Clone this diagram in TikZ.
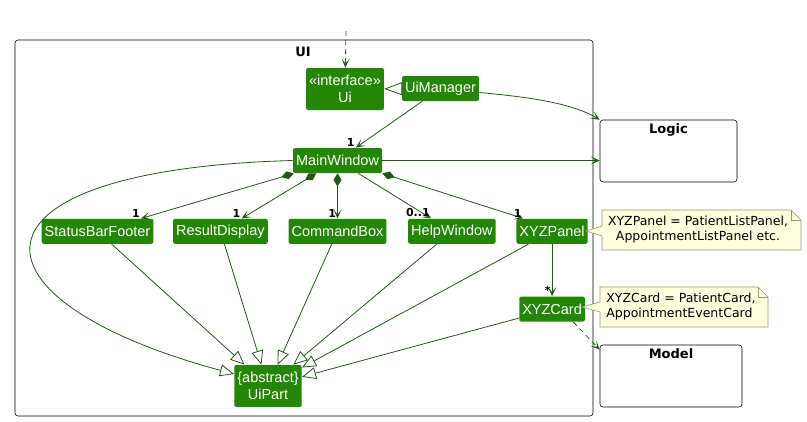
\documentclass[tikz,border=0pt]{standalone}
\usepackage{fontspec}
\setmainfont{Liberation Sans}
\newfontfamily\notefont{DejaVu Sans}
\usetikzlibrary{arrows.meta}
\usetikzlibrary{positioning}
\definecolor{boxgreen}{RGB}{35,135,5}
\definecolor{linegreen}{RGB}{30,90,20}
\definecolor{notefill}{RGB}{254,254,221}
\definecolor{noteline}{RGB}{150,150,120}

\begin{document}
\begin{tikzpicture}[x=1pt,y=-1pt,thick,>={Stealth[length=9pt,width=8pt,inset=5pt]},
    cls/.style={fill=boxgreen,text=white,rounded corners=2pt,inner sep=3pt,minimum height=25pt,
      align=center,font=\fontsize{14.5}{17}\selectfont},
    pkg/.style={draw=black,rounded corners=3pt,semithick},
    ptitle/.style={inner sep=1pt,font=\notefont\bfseries\fontsize{13}{15}\selectfont},
    mult/.style={inner sep=1pt,text=black,font=\notefont\bfseries\fontsize{11}{13}\selectfont},
    notebox/.style={fill=notefill,draw=noteline,semithick},
    notetext/.style={inner sep=3pt,font=\notefont\fontsize{12.5}{15}\selectfont},
    conn/.style={draw=linegreen},
    inherit/.style={draw=linegreen,-{Triangle[open,length=14pt,width=12pt]}}]
      \useasboundingbox (0,0) rectangle (807,421);
      % UI package
      \draw[pkg] (15,40) rectangle (593,416);
      \node (UItitle) [ptitle] at (303,52) {UI};
      \node (Ui) [cls,minimum height=42pt] at (345,89) {«interface»\\Ui};
      \node (UiManager) [cls] at (440.5,88.5) {UiManager};
      \node (MainWindow) [cls] at (337.5,160.5) {MainWindow};
      \node (CommandBox) [cls,below=45pt of MainWindow] {CommandBox};
      \node (ResultDisplay) [cls,left=20pt of CommandBox] {ResultDisplay};
      \node (StatusBarFooter) [cls,left=19pt of ResultDisplay] {StatusBarFooter};
      \node (HelpWindow) [cls,right=21pt of CommandBox] {HelpWindow};
      \node (XYZPanel) [cls,right=20pt of HelpWindow] {XYZPanel};
      \node (XYZCard) [cls,below=52pt of XYZPanel] {XYZCard};
      \node (UiPart) [cls,minimum height=42pt] at (268,386) {\{abstract\}\\UiPart};
      % other packages
      \node (Logic) [pkg,minimum width=137pt,minimum height=62pt] at (668.5,151) {};
      \node (LogicTitle) [ptitle,below=3pt of Logic.north] {Logic};
      \node (Model) [pkg,minimum width=142pt,minimum height=62pt] at (671,376) {};
      \node (ModelTitle) [ptitle,below=3pt of Model.north] {Model};
      % notes
      \draw[notebox] (602,210) -- (791,210) -- (801,220) -- (801,250) -- (602,250)
        -- (602,236) -- (586,231) -- (602,226) -- cycle;
      \draw[noteline,semithick] (791,210) -- (791,220) -- (801,220);
      \node (PanelNote) [notetext,align=center] at (698,230) {XYZPanel = PatientListPanel,\\AppointmentListPanel etc.};
      \draw[notebox] (600,287) -- (758,287) -- (768,297) -- (768,327) -- (600,327)
        -- (600,312) -- (582,307) -- (600,302) -- cycle;
      \draw[noteline,semithick] (758,287) -- (758,297) -- (768,297);
      \node (CardNote) [notetext,align=left,anchor=west] at (603,307) {XYZCard = PatientCard,\\AppointmentEventCard};
      % connectors
      \coordinate (entry) at (346,31);
      \draw[conn,->,dash pattern=on 5pt off 4pt] (entry) -- (Ui);
      \draw[conn,-{Triangle[open,length=18pt,width=13pt]}] (UiManager) -- (Ui);
      \draw[conn,->] (UiManager) -- node[mult,at end,above left]{1} (MainWindow);
      \draw[conn,->] ([yshift=-4pt]UiManager.east) .. controls (540,98) and (575,105) .. (Logic.north west);
      \draw[conn,->] (MainWindow.east) -- (MainWindow.east -| Logic.west);
      \draw[conn,{Diamond[length=13pt,width=8pt]}->] (MainWindow) -- node[mult,at end,above left]{1} (StatusBarFooter);
      \draw[conn,{Diamond[length=13pt,width=8pt]}->] (MainWindow) -- node[mult,at end,above left]{1} (ResultDisplay);
      \draw[conn,{Diamond[length=13pt,width=8pt]}->] (MainWindow) -- node[mult,at end,above left]{1} (CommandBox);
      \draw[conn,->] (MainWindow) -- node[mult,at end,above left]{0..1} (HelpWindow);
      \draw[conn,{Diamond[length=13pt,width=8pt]}->] (MainWindow.south east) -- node[mult,at end,above left]{1} ([xshift=7pt]XYZPanel.north west);
      \draw[conn,->] (XYZPanel) -- node[mult,at end,above left]{*} (XYZCard);
      \draw[conn,->,dash pattern=on 5pt off 4pt] ([xshift=-12pt]XYZCard.south east) -- ([yshift=-5pt]Model.north west);
      \draw[inherit] (MainWindow.west) .. controls (-50,170) and (-40,300) .. ([yshift=12pt]UiPart.west);
      \draw[inherit] (StatusBarFooter) -- (UiPart);
      \draw[inherit] (ResultDisplay) -- (UiPart);
      \draw[inherit] (CommandBox) -- (UiPart);
      \draw[inherit] (HelpWindow) -- (UiPart);
      \draw[inherit] (XYZPanel) -- (UiPart);
      \draw[inherit] (XYZCard) -- (UiPart);
    \end{tikzpicture}
\end{document}
